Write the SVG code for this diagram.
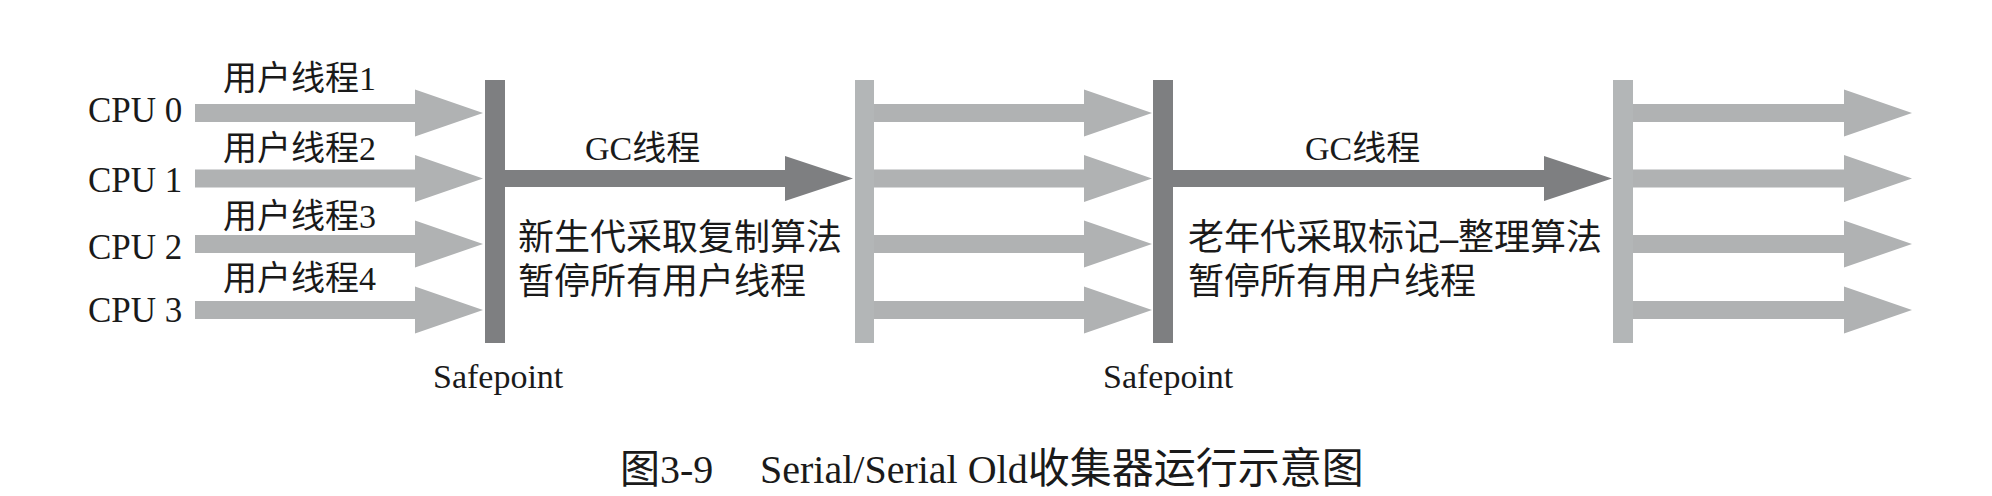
<svg xmlns="http://www.w3.org/2000/svg" width="1992" height="496" viewBox="0 0 1992 496">
<style>
.bg{fill:#ffffff}
.lat{font-family:"Liberation Serif","Noto Sans CJK SC",serif;fill:#1a1a1a}
.cjk{font-family:"Liberation Serif","Noto Sans CJK SC",serif;fill:#1a1a1a}
.ua{fill:#b0b2b3}
.ga{fill:#7e7f81}
.dbar{fill:#7e7f81}
.lbar{fill:#b3b6b7}
</style>
<rect class="bg" x="0" y="0" width="1992" height="496"/>

<g id="cpu-labels">
  <text class="lat" x="88" y="122" font-size="35">CPU 0</text>
  <text class="lat" x="88" y="192" font-size="35">CPU 1</text>
  <text class="lat" x="88" y="259" font-size="35">CPU 2</text>
  <text class="lat" x="88" y="322" font-size="35">CPU 3</text>
</g>

<g id="thread-labels">
  <text class="cjk" x="223" y="90" font-size="34">用户线程1</text>
  <text class="cjk" x="223" y="160" font-size="34">用户线程2</text>
  <text class="cjk" x="223" y="228" font-size="34">用户线程3</text>
  <text class="cjk" x="223" y="290" font-size="34">用户线程4</text>
</g>

<g id="safepoint1">
  <rect class="dbar" x="485" y="80" width="20" height="263"/>
  <text class="lat" x="433" y="388" font-size="34">Safepoint</text>
</g>

<g id="resume1">
  <rect class="lbar" x="855" y="80" width="19" height="263"/>
</g>

<g id="safepoint2">
  <rect class="dbar" x="1153" y="80" width="20" height="263"/>
  <text class="lat" x="1103" y="388" font-size="34">Safepoint</text>
</g>

<g id="resume2">
  <rect class="lbar" x="1613" y="80" width="20" height="263"/>
</g>

<g id="gc1-text">
  <text class="cjk" x="585" y="160" font-size="34">GC线程</text>
  <text class="cjk" x="518" y="250" font-size="36">新生代采取复制算法</text>
  <text class="cjk" x="518" y="294" font-size="36">暂停所有用户线程</text>
</g>

<g id="gc2-text">
  <text class="cjk" x="1305" y="160" font-size="34">GC线程</text>
  <text class="cjk" x="1188" y="250" font-size="36">老年代采取标记<tspan font-weight="bold">–</tspan>整理算法</text>
  <text class="cjk" x="1188" y="294" font-size="36">暂停所有用户线程</text>
</g>

<g id="connectors">
  <path class="ua" d="M195,104 H415 V89.5 L483,113 L415,136.5 V122 H195 Z"/>
  <path class="ua" d="M195,169.5 H415 V155 L483,178.5 L415,202 V187.5 H195 Z"/>
  <path class="ua" d="M195,235 H415 V220.5 L483,244 L415,267.5 V253 H195 Z"/>
  <path class="ua" d="M195,301 H415 V286.5 L483,310 L415,333.5 V319 H195 Z"/>
  <path class="ga" d="M505,170 H785 V156 L853,178.5 L785,201 V187 H505 Z"/>
  <path class="ua" d="M874,104 H1084 V89.5 L1152,113 L1084,136.5 V122 H874 Z"/>
  <path class="ua" d="M874,169.5 H1084 V155 L1152,178.5 L1084,202 V187.5 H874 Z"/>
  <path class="ua" d="M874,235 H1084 V220.5 L1152,244 L1084,267.5 V253 H874 Z"/>
  <path class="ua" d="M874,301 H1084 V286.5 L1152,310 L1084,333.5 V319 H874 Z"/>
  <path class="ga" d="M1173,170 H1544 V156 L1612,178.5 L1544,201 V187 H1173 Z"/>
  <path class="ua" d="M1633,104 H1844 V89.5 L1912,113 L1844,136.5 V122 H1633 Z"/>
  <path class="ua" d="M1633,169.5 H1844 V155 L1912,178.5 L1844,202 V187.5 H1633 Z"/>
  <path class="ua" d="M1633,235 H1844 V220.5 L1912,244 L1844,267.5 V253 H1633 Z"/>
  <path class="ua" d="M1633,301 H1844 V286.5 L1912,310 L1844,333.5 V319 H1633 Z"/>
</g>

<g id="caption">
  <text class="cjk" y="483" font-size="40"><tspan x="620">图3-9</tspan><tspan x="760">Serial/Serial Old</tspan><tspan font-size="42">收集器运行示意图</tspan></text>
</g>
</svg>
